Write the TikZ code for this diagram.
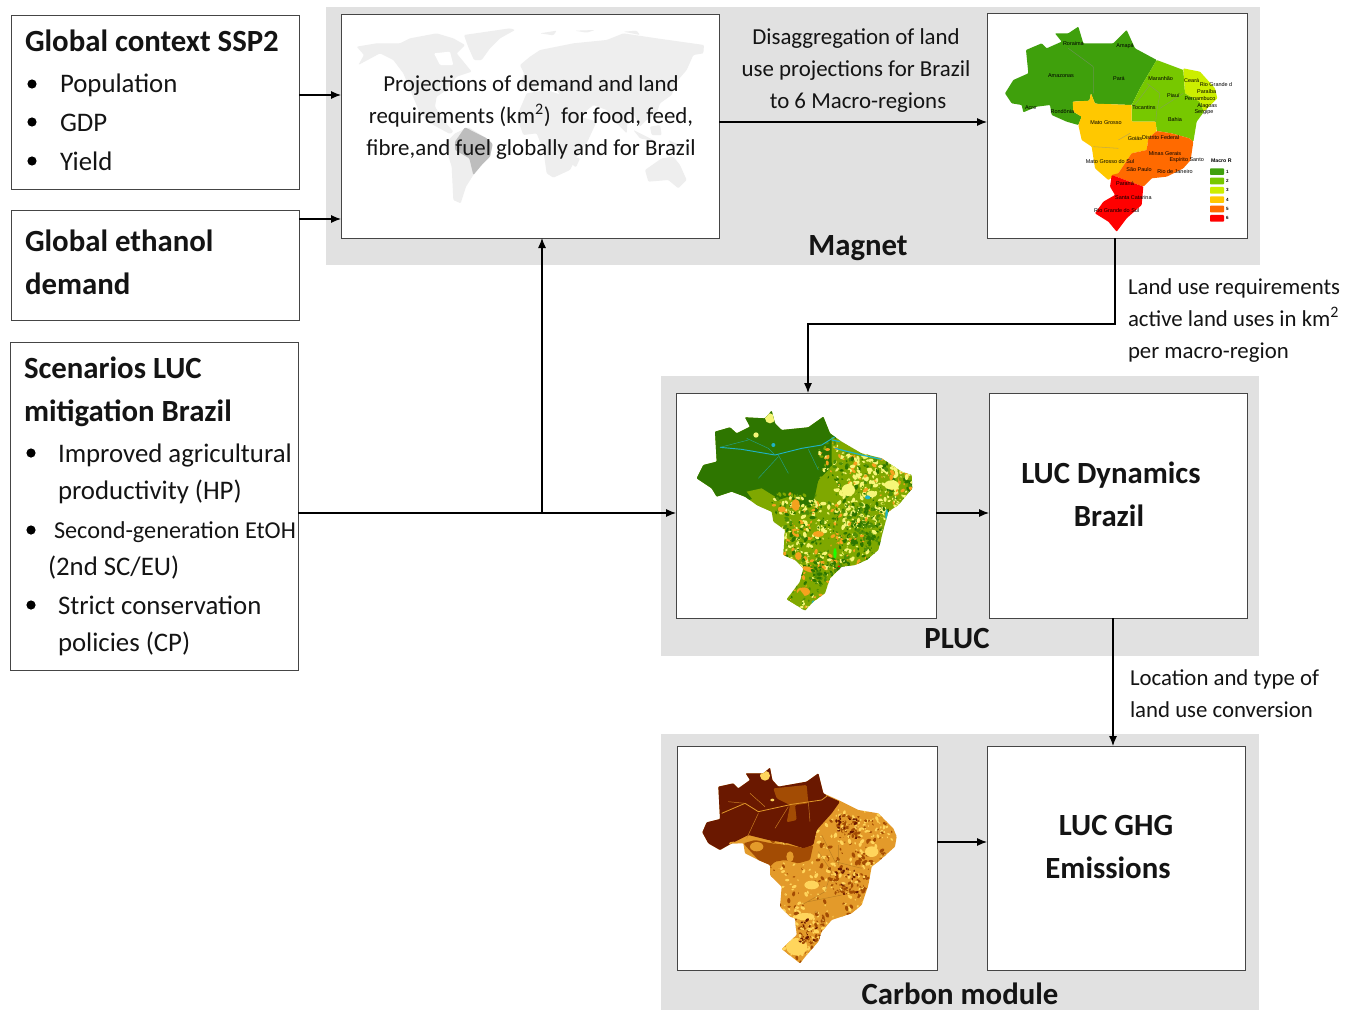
\documentclass[tikz,border=0pt]{standalone}
\usepackage{fontspec}
\setmainfont{Carlito}
\newfontfamily\statefont{Liberation Sans}
\usetikzlibrary{arrows.meta,fit}
\definecolor{panelc}{HTML}{E1E1E1}
\definecolor{edgec}{HTML}{454545}
\definecolor{txt}{HTML}{141414}
\definecolor{reg1}{HTML}{3FA00C}
\definecolor{reg2}{HTML}{77C800}
\definecolor{reg3}{HTML}{CCEE00}
\definecolor{reg4}{HTML}{FFC800}
\definecolor{reg5}{HTML}{FF6A00}
\definecolor{reg6}{HTML}{FF0000}
\definecolor{plucdk}{HTML}{2E7600}
\definecolor{plucmd}{HTML}{4F8F06}
\definecolor{plucol}{HTML}{7FA800}
\definecolor{plucyl}{HTML}{F6F678}
\definecolor{plucor}{HTML}{F5A21E}
\definecolor{pluccy}{HTML}{1FB2C4}
\definecolor{carbdk}{HTML}{6A1800}
\definecolor{carbmd}{HTML}{A34C04}
\definecolor{carbor}{HTML}{E39A2A}
\definecolor{carbyl}{HTML}{FFD55C}
\definecolor{worldc}{HTML}{EEEEEE}
\definecolor{worldb}{HTML}{BDBDBD}
\tikzset{
  panel/.style={fill=panelc,draw=none,inner sep=0pt,outer sep=0pt},
  box/.style={fill=white,draw=edgec,line width=.7pt,inner sep=0pt,outer sep=0pt},
  conn/.style={draw=black,line width=.8pt,-{Latex[length=7.5pt,width=6pt]}},
  lab/.style={inner sep=0pt,outer sep=0pt,anchor=base west,text=txt},
  mid/.style={inner sep=0pt,outer sep=0pt,anchor=base,text=txt},
  body/.style={font=\fontsize{20.1pt}{22pt}\selectfont},
  small/.style={font=\fontsize{17.15pt}{20pt}\selectfont},
  small2/.style={font=\fontsize{18.2pt}{20pt}\selectfont},
  note/.style={font=\fontsize{17.1pt}{20pt}\selectfont},
  head/.style={font=\bfseries\fontsize{23.1pt}{26pt}\selectfont},
  state/.style={inner sep=0pt,outer sep=0pt,text=black,font=\statefont\fontsize{4.1pt}{5pt}\selectfont},
  dot/.style={fill=black,draw=none}
}
\newcommand{\stlab}[3]{\node[state] (st#1) at (#2) {#3};}
\newcommand{\scat}[7]{%
  \foreach \i in {1,...,#1}{%
    \pgfmathrandomitem{\mycol}{#2}%
    \pgfmathsetmacro{\qx}{#3+rnd*#4}%
    \pgfmathsetmacro{\qy}{#5+rnd*#6}%
    \pgfmathsetmacro{\qa}{rnd*180}%
    \pgfmathsetmacro{\qr}{2.5+rnd*#7}%
    \fill[\mycol] (\qx,\qy) ellipse [x radius=\qr,y radius=\qr*.6,rotate=\qa];
  }}
\pgfmathdeclarerandomlist{plucA}{{plucdk}{plucol}{plucol}{plucyl}{plucyl}{plucmd}{plucor}{plucdk}}
\pgfmathdeclarerandomlist{plucB}{{plucyl}{plucyl}{plucyl}{plucyl}{plucol}{plucdk}{plucor}{plucmd}}
\pgfmathdeclarerandomlist{plucC}{{plucdk}{plucmd}{plucol}{plucol}{plucor}{plucdk}{plucyl}}
\pgfmathdeclarerandomlist{plucD}{{plucdk}{plucmd}}
\pgfmathdeclarerandomlist{carbA}{{carbmd}{carbor}{carbor}{carbyl}{carbyl}{carbmd}{carbor}{carbyl}}
\pgfmathdeclarerandomlist{carbB}{{carbmd}{carbmd}{carbdk}{carbor}{carbyl}}
\begin{document}
\begin{tikzpicture}[x=.75pt,y=-.75pt]
\useasboundingbox (0,0) rectangle (1352,1010);
\fill[white] (0,0) rectangle (1352,1010);
% panels
\node[panel,fit={(326,7)(1260,265)}] (pmagnet) {};
\node[panel,fit={(661,376)(1259,656)}] (ppluc) {};
\node[panel,fit={(661,734)(1259,1010)}] (pcarbon) {};
% boxes
\node[box,fit={(11,15)(299,189)}] (ctx) {};
\node[box,fit={(11,210)(299,320)}] (eth) {};
\node[box,fit={(10,342)(298,670)}] (scen) {};
\node[box,fit={(341,14)(719,238)}] (world) {};
\node[box,fit={(987,13)(1247,238)}] (map1) {};
\node[box,fit={(676,393)(936,618)}] (map2) {};
\node[box,fit={(989,393)(1247,618)}] (dyn) {};
\node[box,fit={(677,746)(937,970)}] (map3) {};
\node[box,fit={(987,746)(1245,970)}] (ghg) {};
% world map
\begin{scope}[shift={(340,10)},scale=1/3,rounded corners=.8pt]
% North America
\fill[worldc] (50,110)--(110,100)--(180,100)--(210,85)--(290,70)--(340,85)--(375,105)--(350,130)--(395,185)--(350,200)--(320,240)--(290,260)--(285,290)--(310,330)--(340,365)--(330,372)--(280,345)--(240,310)--(215,250)--(190,190)--(160,150)--(120,130)--(55,165)--(72,135)--cycle;
% Greenland
\fill[worldc] (372,75)--(510,55)--(525,60)--(480,85)--(450,115)--(425,150)--(402,150)--(385,112)--cycle;
% South America
\fill[worldc] (330,385)--(345,370)--(385,352)--(440,385)--(458,402)--(450,440)--(420,470)--(400,495)--(378,530)--(362,580)--(340,570)--(335,470)--(315,405)--cycle;
% Eurasia
\fill[worldc] (540,165)--(570,140)--(600,120)--(650,110)--(700,100)--(800,90)--(850,70)--(950,85)--(1092,105)--(1090,130)--(1060,135)--(1040,180)--(1010,215)--(995,255)--(960,280)--(950,310)--(920,330)--(900,350)--(880,310)--(865,300)--(860,370)--(830,340)--(800,300)--(760,285)--(730,310)--(700,330)--(670,270)--(650,240)--(600,225)--(575,240)--(540,225)--(552,190)--cycle;
% Africa
\fill[worldc] (560,250)--(620,240)--(650,250)--(700,265)--(720,320)--(770,335)--(740,400)--(715,430)--(690,480)--(640,503)--(620,490)--(610,420)--(590,370)--(550,375)--(530,320)--cycle;
% Australia
\fill[worldc] (915,480)--(965,445)--(1000,440)--(1020,465)--(1040,510)--(1015,535)--(985,510)--(925,515)--cycle;
% islands
\fill[worldc] (600,70)--(650,62)--(640,76)--cycle (705,62)--(765,60)--(740,68)--cycle (850,65)--(890,62)--(900,75)--cycle;
\fill[worldc] (880,360)--(950,395)--(900,385)--cycle (930,350)--(960,345)--(965,375)--(935,375)--cycle (985,390)--(1030,410)--(1000,412)--cycle (700,440)--(720,445)--(708,472)--(698,465)--cycle;
\fill[white] (282,130)--(330,125)--(340,165)--(300,165)--cycle;
\fill[worldb] (345,395)--(375,352)--(440,385)--(458,402)--(450,440)--(425,465)--(400,495)--(388,445)--(345,420)--cycle;
\end{scope}
% macro-region map
\begin{scope}[shift={(980,5)},scale=1/3,rounded corners=.6pt]
\fill[reg1] (75,265)--(100,225)--(145,205)--(138,135)--(185,115)--(200,130)--(245,110)--(225,85)--(265,85)--(295,65)--(310,115)--(400,115)--(440,75)--(465,130)--(530,165)--(480,250)--(455,300)--(345,296)--(333,265)--(328,287)--(278,290)--(280,320)--(305,335)--(295,360)--(260,350)--(215,330)--(210,300)--(170,305)--(130,322)--(125,300)--(95,295)--cycle;
\fill[reg2] (530,165)--(610,195)--(615,265)--(660,290)--(672,320)--(650,350)--(640,410)--(628,400)--(575,385)--(530,378)--(527,350)--(455,350)--(455,300)--(480,250)--cycle;
\fill[reg3] (610,190)--(660,200)--(705,250)--(712,280)--(672,320)--(660,290)--(615,265)--cycle;
\fill[reg4] (278,290)--(328,287)--(333,265)--(345,296)--(455,300)--(455,350)--(527,350)--(530,378)--(505,400)--(500,435)--(455,445)--(415,505)--(385,525)--(345,490)--(335,425)--(305,405)--(295,360)--(305,335)--(280,320)--cycle;
\fill[reg5] (530,378)--(575,385)--(628,400)--(640,410)--(632,465)--(610,490)--(560,515)--(515,520)--(490,545)--(395,510)--(415,505)--(455,445)--(500,435)--(505,400)--cycle;
\fill[reg6] (395,510)--(490,545)--(485,600)--(440,640)--(410,680)--(385,650)--(345,625)--(370,590)--(405,570)--(390,545)--cycle;
\draw[black!45,opacity=.5,line width=.4pt] (265,130)--(340,185)--(340,265) (500,235)--(540,265)--(530,320) (610,265)--(540,310) (415,405)--(450,385) (340,425)--(415,430) (510,240)--(460,305) (530,320)--(527,350);
\foreach \n/\c in {1/reg1,2/reg2,3/reg3,4/reg4,5/reg5,6/reg6}{
  \fill[\c] (690,{490+(\n-1)*28}) rectangle (732,{510+(\n-1)*28});
  \node[state,font=\statefont\bfseries\fontsize{3.4pt}{4pt}\selectfont] (leg\n) at (742,{500+(\n-1)*28}) {\n};
}
\node[state,font=\statefont\bfseries\fontsize{3.9pt}{5pt}\selectfont] (legt) at (724,467) {Macro R};
\stlab{a}{280,117}{Roraima}
\stlab{b}{435,122}{Amapá}
\stlab{c}{243,213}{Amazonas}
\stlab{d}{417,222}{Pará}
\stlab{e}{542,220}{Maranhão}
\stlab{f}{635,227}{Ceará}
\stlab{g}{708,240}{Rio Grande d}
\stlab{h}{680,260}{Paraíba}
\stlab{i}{580,272}{Piauí}
\stlab{j}{660,282}{Pernambuco}
\stlab{k}{682,302}{Alagoas}
\stlab{l}{672,320}{Sergipe}
\stlab{m}{492,308}{Tocantins}
\stlab{n}{152,307}{Acre}
\stlab{o}{247,320}{Rondônia}
\stlab{p}{378,352}{Mato Grosso}
\stlab{q}{585,345}{Bahia}
\stlab{r}{465,401}{Goiás}
\stlab{s}{542,397}{Distrito Federal}
\stlab{t}{555,445}{Minas Gerais}
\stlab{u}{620,464}{Espírito Santo}
\stlab{v}{390,470}{Mato Grosso do Sul}
\stlab{w}{477,495}{São Paulo}
\stlab{x}{585,500}{Rio de Janeiro}
\stlab{y}{435,536}{Paraná}
\stlab{z}{460,578}{Santa Catarina}
\stlab{aa}{410,617}{Rio Grande do Sul}
\end{scope}
% land-use map
\begin{scope}[shift={(675,390)},scale=1/3]
\clip[rounded corners=.6pt] (65,265)--(85,225)--(125,215)--(120,125)--(165,112)--(185,130)--(225,110)--(210,82)--(270,85)--(290,62)--(300,100)--(320,120)--(400,112)--(445,80)--(465,130)--(500,155)--(560,190)--(620,205)--(680,245)--(710,255)--(712,295)--(670,345)--(640,365)--(625,420)--(610,480)--(575,510)--(540,525)--(500,530)--(465,565)--(450,610)--(415,635)--(390,662)--(355,640)--(335,628)--(375,575)--(385,535)--(360,510)--(325,495)--(330,420)--(295,395)--(290,365)--(245,345)--(210,320)--(170,305)--(125,320)--(110,295)--cycle;
\fill[plucol] (0,0) rectangle (800,700);
\pgfmathsetseed{11}
\scat{550}{plucB}{480}{240}{190}{230}{7}
\scat{600}{plucA}{320}{310}{340}{200}{7}
\scat{170}{plucC}{330}{160}{510}{160}{6}
\fill[plucyl] (520,300) ellipse [x radius=20,y radius=18];
\fill[plucyl] (650,285) ellipse [x radius=22,y radius=14];
\fill[plucyl] (590,312) ellipse [x radius=16,y radius=10];
\fill[plucor] (385,605) ellipse [x radius=20,y radius=13];
\fill[plucor] (430,432) ellipse [x radius=17,y radius=9];
\fill[plucor] (400,538) ellipse [x radius=20,y radius=7,rotate=-20];
\fill[plucor] (370,498) ellipse [x radius=10,y radius=12];
\scat{90}{plucD}{530}{90}{350}{130}{5}
\scat{60}{plucD}{410}{110}{520}{60}{5}
\fill[plucol] (340,640) -- (375,600)--(390,620)--(365,650)--cycle;
\fill[green!90!yellow] (480,490) ellipse [x radius=5,y radius=16];
\fill[plucdk,rounded corners=1pt] (50,50)--(290,50)--(320,120)--(400,112)--(445,70)--(480,130)--(490,180)--(470,230)--(430,270)--(415,340)--(380,350)--(340,320)--(295,335)--(270,310)--(240,320)--(225,330)--(150,330)--(50,300)--cycle;
\fill[plucol] (215,305)--(260,295)--(300,320)--(290,365)--(245,345)--cycle;
\fill[plucol] (470,140)--(500,160)--(490,230)--(450,265)--(470,220)--cycle;
\scat{60}{plucA}{430}{70}{150}{120}{5}
\scat{70}{plucA}{290}{140}{310}{60}{5}
\fill[plucyl] (285,85) circle [radius=15];
\fill[plucyl] (243,135) circle [radius=8];
\fill[plucor] (362,345) ellipse [x radius=12,y radius=18];
\fill[plucor] (320,358) ellipse [x radius=12,y radius=9];
\draw[pluccy,line width=.7pt] (135,172)--(200,178)--(300,195)--(380,175)--(440,165)--(480,140);
\draw[pluccy!70!plucdk,line width=.35pt] (215,145)--(280,175)--(300,195) (310,200)--(250,265) (310,195)--(340,250) (400,178)--(430,240) (135,172)--(220,150);
\draw[pluccy,line width=.9pt] (480,175)--(560,195)--(620,208) (470,150)--(495,155);
\fill[pluccy] (295,165) circle [radius=6] (415,645) ellipse [x radius=6,y radius=14] (578,322) ellipse [x radius=8,y radius=6] (635,375) ellipse [x radius=4,y radius=18];
\fill[red] (492,529) circle [radius=3];
\end{scope}
% carbon map
\begin{scope}[shift={(675,745)},scale=1/3]
\clip[rounded corners=.6pt] (82,262)--(95,232)--(135,222)--(130,125)--(175,115)--(190,130)--(225,105)--(212,85)--(265,85)--(285,68)--(292,105)--(310,125)--(395,110)--(430,85)--(445,145)--(490,165)--(550,195)--(610,205)--(655,250)--(665,275)--(660,305)--(610,350)--(590,365)--(580,420)--(560,480)--(530,505)--(470,525)--(440,560)--(430,590)--(395,630)--(375,655)--(320,612)--(365,570)--(360,520)--(345,515)--(315,485)--(320,425)--(285,390)--(285,360)--(250,345)--(210,325)--(205,295)--(170,295)--(135,315)--(100,295)--cycle;
\fill[carbor] (0,0) rectangle (800,700);
\pgfmathsetseed{23}
\scat{1000}{carbA}{280}{390}{190}{470}{6}
\fill[carbyl] (590,320) ellipse [x radius=20,y radius=16];
\fill[carbyl] (410,420) ellipse [x radius=22,y radius=13];
\fill[carbyl] (365,605) ellipse [x radius=32,y radius=26];
\fill[carbyl] (390,515) ellipse [x radius=28,y radius=11];
\scat{90}{carbB}{480}{70}{210}{70}{5}
\scat{90}{carbB}{470}{90}{370}{80}{5}
\scat{90}{carbB}{375}{70}{525}{70}{5}
\scat{50}{carbA}{550}{90}{220}{60}{4}
\fill[carbdk,rounded corners=1pt] (60,60)--(285,60)--(310,125)--(395,105)--(430,75)--(450,150)--(495,170)--(470,205)--(425,255)--(415,300)--(385,310)--(340,295)--(280,285)--(220,270)--(170,295)--(130,330)--(60,300)--cycle;
\fill[carbmd,rounded corners=1pt] (295,130)--(395,120)--(400,175)--(360,180)--(365,225)--(335,232)--(345,180)--(305,160)--cycle;
\fill[carbmd,rounded corners=1pt] (205,295)--(240,285)--(290,295)--(340,300)--(385,310)--(415,300)--(405,345)--(370,355)--(330,345)--(300,350)--(285,365)--(250,345)--cycle;
\fill[carbyl] (270,92) circle [radius=15];
\fill[carbor] (245,305) ellipse [x radius=20,y radius=14];
\fill[carbor] (345,335) ellipse [x radius=11,y radius=16];
\fill[carbyl] (292,165) ellipse [x radius=6,y radius=4];
\fill[carbor] (175,295) ellipse [x radius=13,y radius=5];
\draw[carbor,line width=.6pt] (140,205)--(210,175)--(250,200)--(350,178)--(440,165)--(460,150);
\draw[carbor!80!carbdk,line width=.35pt] (225,145)--(270,185) (250,205)--(215,280) (340,185)--(300,250) (160,170)--(210,175) (400,170)--(405,230);
\draw[carbor!70!black,opacity=.6,line width=.35pt] (430,320)--(470,380)--(450,440)--(380,480) (490,300)--(490,360) (440,270)--(480,350)--(560,370) (400,470)--(500,450);
\end{scope}
% connectors
\draw[conn] (ctx.east |- 0,95) -- (world.west |- 0,95);
\draw[conn] (eth.east |- 0,219) -- (world.west |- 0,219);
\draw[conn] (scen.east |- 0,513) -- (map2.west |- 0,513);
\coordinate (branch) at (542,513);
\draw[conn] (branch) -- (branch |- world.south);
\draw[conn] (world.east |- 0,122) -- (map1.west |- 0,122);
\coordinate (turnA) at (1115,324);
\coordinate (turnB) at (808,324);
\draw[conn] (turnA |- map1.south) -- (turnA) -- (turnB) -- (turnB |- map2.north);
\draw[conn] (map2.east |- 0,513) -- (dyn.west |- 0,513);
\coordinate (down) at (1113,680);
\draw[conn] (down |- dyn.south) -- (down |- ghg.north);
\draw[conn] (map3.east |- 0,842) -- (ghg.west |- 0,842);
% text: global context
\node[lab,head] (t1) at (25,51) {Global context SSP2};
\fill[dot] (32,84) circle [radius=4.6];
\node[lab,body] (t2) at (60,92) {Population};
\fill[dot] (32,122) circle [radius=4.6];
\node[lab,body] (t3) at (60,131) {GDP};
\fill[dot] (32,161) circle [radius=4.6];
\node[lab,body] (t4) at (60,170) {Yield};
% ethanol
\node[lab,head] (t5) at (25,251) {Global ethanol};
\node[lab,head] (t6) at (25,294) {demand};
% scenarios
\node[lab,head] (t7) at (24,378) {Scenarios LUC};
\node[lab,head] (t8) at (24,421) {mitigation Brazil};
\fill[dot] (31,453) circle [radius=4.6];
\node[lab,body] (t9) at (58,462) {Improved agricultural};
\node[lab,body] (t10) at (58,499) {productivity (HP)};
\fill[dot] (31,530) circle [radius=4.6];
\node[lab,small2] (t11) at (54,538) {Second-generation EtOH};
\node[lab,body] (t12) at (48,575) {(2nd SC/EU)};
\fill[dot] (31,605) circle [radius=4.6];
\node[lab,body] (t13) at (58,614) {Strict conservation};
\node[lab,body] (t14) at (58,651) {policies (CP)};
% world text
\node[mid,small] (t15) at (531,91) {Projections of demand and land};
\node[mid,small] (t16) at (531,123) {requirements (km\textsuperscript{2})\ \ for food, feed,};
\node[mid,small] (t17) at (531,155) {fibre,and fuel globally and for Brazil};
% disaggregation
\node[mid,small] (t18) at (856,44) {Disaggregation of land};
\node[mid,small] (t19) at (856,76) {use projections for Brazil};
\node[mid,small] (t20) at (858,108) {to 6 Macro-regions};
\node[mid,head] (t21) at (858,255) {Magnet};
% notes
\node[lab,note] (t22) at (1128,294) {Land use requirements};
\node[lab,note] (t23) at (1128,326) {active land uses in km\textsuperscript{2}};
\node[lab,note] (t24) at (1128,358) {per macro-region};
\node[lab,note] (t25) at (1130,685) {Location and type of};
\node[lab,note] (t26) at (1130,717) {land use conversion};
% module labels
\node[mid,head] (t27) at (957,648) {PLUC};
\node[mid,head] (t28) at (1111,483) {LUC Dynamics};
\node[mid,head] (t29) at (1109,526) {Brazil};
\node[mid,head] (t30) at (1116,835) {LUC GHG};
\node[mid,head] (t31) at (1108,878) {Emissions};
\node[mid,head] (t32) at (960,1004) {Carbon module};
\end{tikzpicture}
\end{document}
